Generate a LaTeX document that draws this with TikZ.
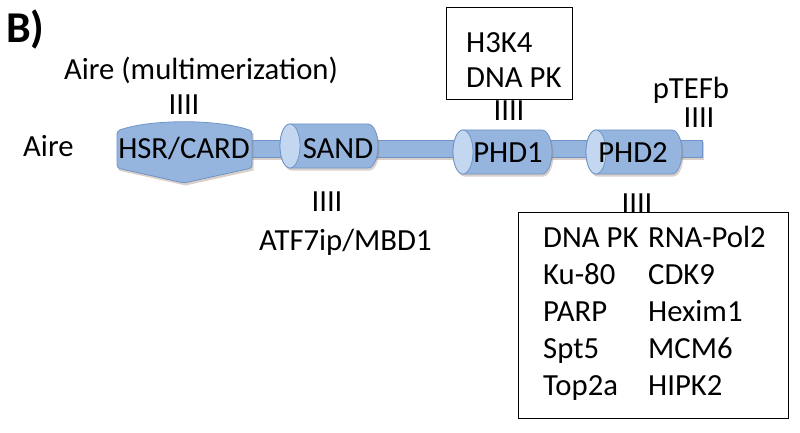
\documentclass[tikz,border=0pt]{standalone}
\usepackage{fontspec}
\setmainfont{Carlito}
\definecolor{dombl}{RGB}{149,181,222}
\definecolor{domedge}{RGB}{110,148,200}
\definecolor{domcap}{RGB}{196,215,240}
\definecolor{shadowc}{RGB}{150,120,100}
\begin{document}
\begin{tikzpicture}[x=1pt,y=-1pt,
  lbl/.style={inner sep=0pt,anchor=base,font=\fontsize{30.7}{36}\selectfont},
  lbll/.style={lbl,anchor=base west},
  ticks/.style={lbl},
  dom/.style={fill=dombl,draw=domedge,line width=0.8pt},
  boxst/.style={draw=black,line width=1pt,fill=white}]
\useasboundingbox (0,0) rectangle (800,433);
% B)
\node[lbl,anchor=base west,font=\fontsize{44}{50}\selectfont\bfseries] (lab) at (6,43) {B)};
% backbone bar
\fill[shadowc,opacity=0.35] (250,142) rectangle (704,160);
\draw[dom] (250,140) rectangle (702,157);
% HSR/CARD shape
\fill[shadowc,opacity=0.35,shift={(1.5,2.5)}] (117,131) .. controls (150,119) and (218,119) .. (252,131) -- (252,168) -- (184,183) -- (117,168) -- cycle;
\draw[dom,rounded corners=3pt] (117,131) .. controls (150,119) and (218,119) .. (252,131) -- (252,168) -- (184,183) -- (117,168) -- cycle;
% cylinders
\foreach \xa/\xb/\ya/\yb in {280/378/124/168, 453/552/130/174, 586/682/130/174}{
  \pgfmathsetmacro{\ym}{(\ya+\yb)/2}
  \pgfmathsetmacro{\ry}{(\yb-\ya)/2}
  \fill[shadowc,opacity=0.35,shift={(1.5,2.5)}] (\xa+10,\ya) -- (\xb-10,\ya) arc[start angle=-90,end angle=90,x radius=10,y radius=\ry] -- (\xa+10,\yb) arc[start angle=90,end angle=270,x radius=10,y radius=\ry] -- cycle;
  \draw[dom] (\xa+10,\ya) -- (\xb-10,\ya) arc[start angle=-90,end angle=90,x radius=10,y radius=\ry] -- (\xa+10,\yb) arc[start angle=90,end angle=270,x radius=10,y radius=\ry] -- cycle;
  \draw[dom,fill=domcap] (\xa+10,\ym) ellipse[x radius=10,y radius=\ry];
}
% domain labels
\node[lbll] (aire) at (23,157) {Aire};
\node[lbl] (hsr) at (184,158) {HSR/CARD};
\node[lbl] (sand) at (338,158) {SAND};
\node[lbl] (phd1) at (508,162) {PHD1};
\node[lbl] (phd2) at (633,162) {PHD2};
% partners
\node[lbl] (multi) at (201,80) {Aire (multimerization)};
\node[ticks] (t1) at (184,115) {IIII};
\node[ticks] (t2) at (327,211) {IIII};
\node[lbll] (atf) at (259,250) {ATF7ip/MBD1};
% top box
\draw[boxst] (446,8) rectangle (572,100);
\node[lbll] (h3k4) at (466,53) {H3K4};
\node[lbll] (dnapk1) at (466,88) {DNA PK};
\node[ticks] (t3) at (509,121) {IIII};
% pTEFb
\node[lbl] (ptefb) at (691,99) {pTEFb};
\node[ticks] (t4) at (699,128) {IIII};
% bottom box
\draw[boxst] (518,212) rectangle (788,418);
\node[ticks] (t5) at (637,213) {IIII};
\foreach \a/\b/\yy in {DNA PK/RNA-Pol2/247, Ku-80/CDK9/284, PARP/Hexim1/321, Spt5/MCM6/358, Top2a/HIPK2/395}{
  \node[lbll] at (543,\yy) {\a};
  \node[lbll] at (648,\yy) {\b};
}
\end{tikzpicture}
\end{document}
